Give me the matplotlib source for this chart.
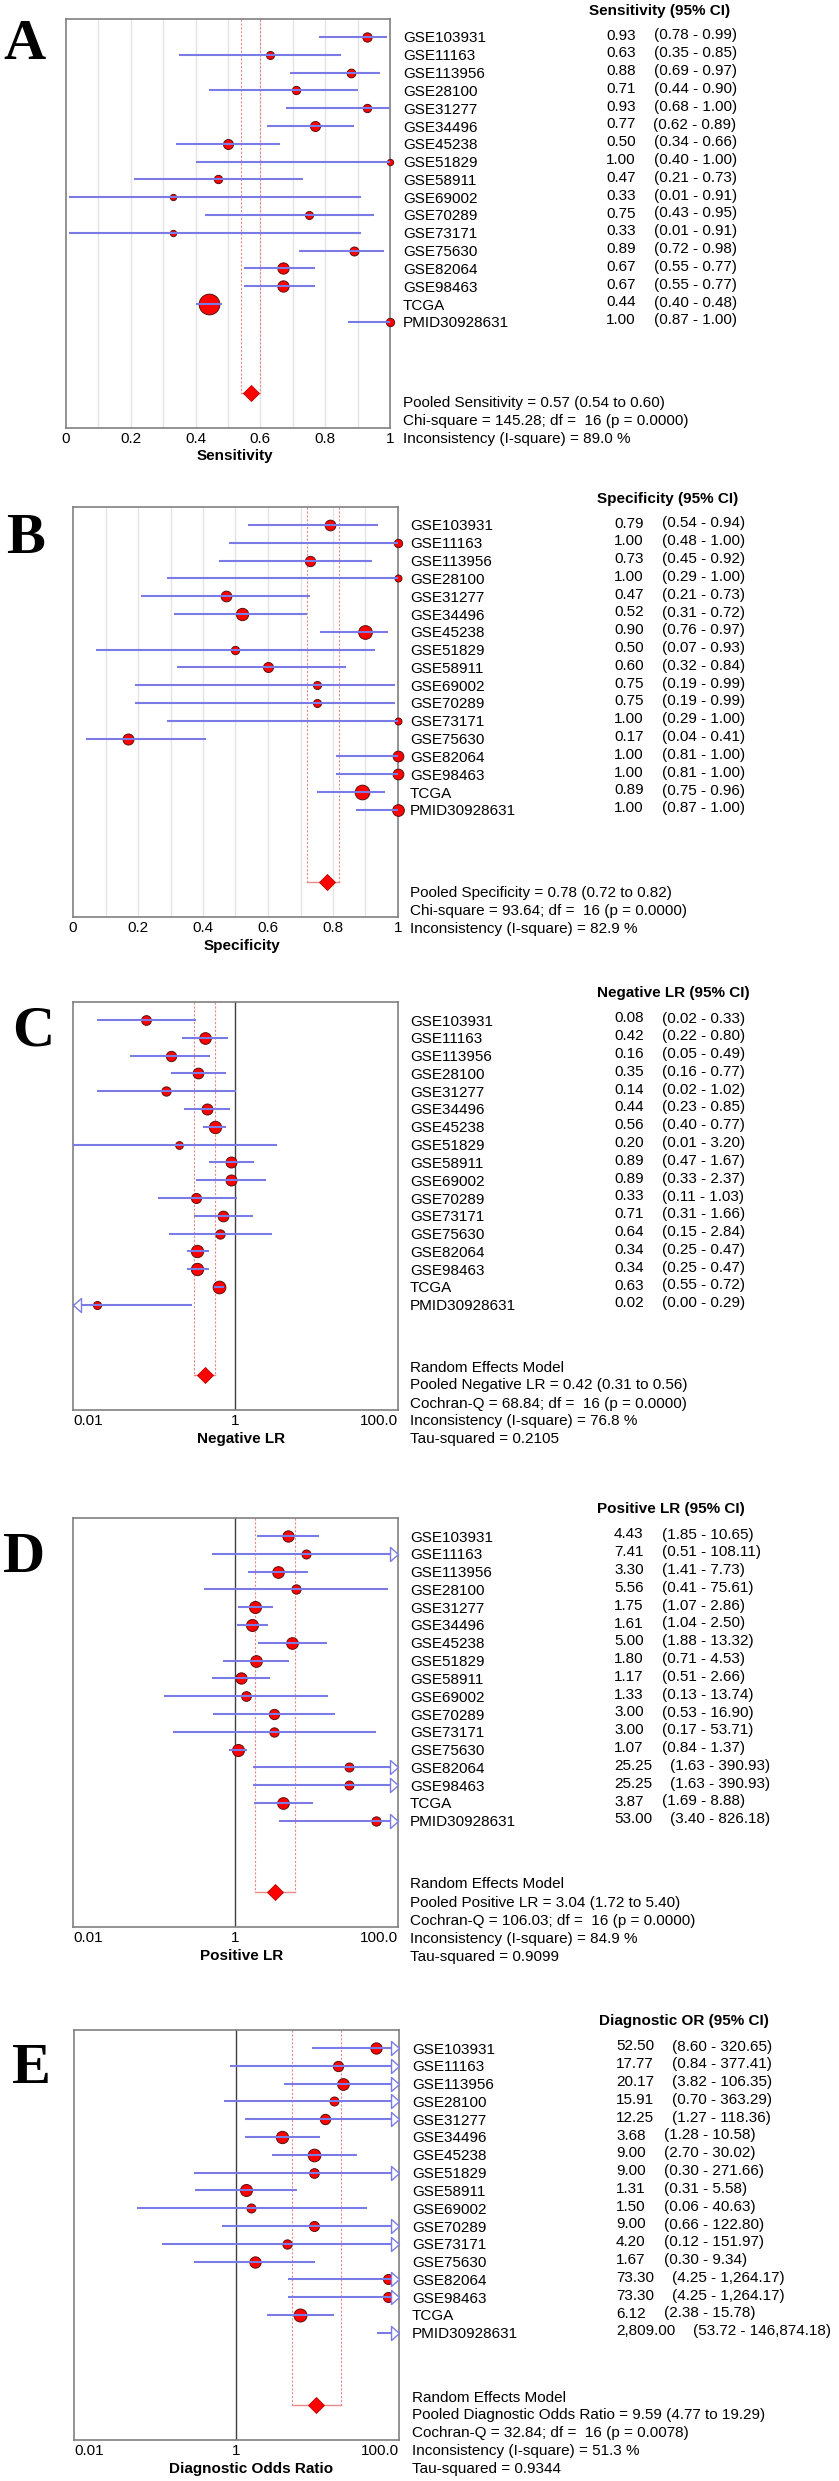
import numpy as np
import matplotlib.pyplot as plt
from matplotlib.path import Path
from matplotlib.ticker import NullLocator

W, H = 839, 2481

studies = ["GSE103931", "GSE11163", "GSE113956", "GSE28100", "GSE31277", "GSE34496",
           "GSE45238", "GSE51829", "GSE58911", "GSE69002", "GSE70289", "GSE73171",
           "GSE75630", "GSE82064", "GSE98463", "TCGA", "PMID30928631"]

# Sensitivity
sens_est = [0.93, 0.63, 0.88, 0.71, 0.93, 0.77, 0.50, 1.00, 0.47, 0.33, 0.75, 0.33, 0.89, 0.67, 0.67, 0.44, 1.00]
sens_lo = [0.78, 0.35, 0.69, 0.44, 0.68, 0.62, 0.34, 0.40, 0.21, 0.01, 0.43, 0.01, 0.72, 0.55, 0.55, 0.40, 0.87]
sens_hi = [0.99, 0.85, 0.97, 0.90, 1.00, 0.89, 0.66, 1.00, 0.73, 0.91, 0.95, 0.91, 0.98, 0.77, 0.77, 0.48, 1.00]
sens_wt = [9.3, 8, 8.7, 8.3, 8.3, 10, 10, 6.3, 8.3, 6.3, 8, 6.3, 9, 11.3, 11.3, 20.7, 8.3]

# Specificity
spec_est = [0.79, 1.00, 0.73, 1.00, 0.47, 0.52, 0.90, 0.50, 0.60, 0.75, 0.75, 1.00, 0.17, 1.00, 1.00, 0.89, 1.00]
spec_lo = [0.54, 0.48, 0.45, 0.29, 0.21, 0.31, 0.76, 0.07, 0.32, 0.19, 0.19, 0.29, 0.04, 0.81, 0.81, 0.75, 0.87]
spec_hi = [0.94, 1.00, 0.92, 1.00, 0.73, 0.72, 0.97, 0.93, 0.84, 0.99, 0.99, 1.00, 0.41, 1.00, 1.00, 0.96, 1.00]
spec_wt = [10.7, 8.3, 10.3, 7, 10.7, 12.3, 13.7, 8.3, 10, 8, 8, 7, 11, 10.7, 10.7, 14.7, 11.7]

# Negative LR
nlr_est = [0.08, 0.42, 0.16, 0.35, 0.14, 0.44, 0.56, 0.20, 0.89, 0.89, 0.33, 0.71, 0.64, 0.34, 0.34, 0.63, 0.02]
nlr_lo = [0.02, 0.22, 0.05, 0.16, 0.02, 0.23, 0.40, 0.01, 0.47, 0.33, 0.11, 0.31, 0.15, 0.25, 0.25, 0.55, 0.00]
nlr_hi = [0.33, 0.80, 0.49, 0.77, 1.02, 0.85, 0.77, 3.20, 1.67, 2.37, 1.03, 1.66, 2.84, 0.47, 0.47, 0.72, 0.29]
nlr_wt = [9.7, 11.7, 10.3, 10.7, 9.3, 11, 12.3, 7.7, 11, 11, 10, 10.7, 9.3, 12.3, 12.3, 12.7, 8]

# Positive LR
plr_est = [4.43, 7.41, 3.30, 5.56, 1.75, 1.61, 5.00, 1.80, 1.17, 1.33, 3.00, 3.00, 1.07, 25.25, 25.25, 3.87, 53.00]
plr_lo = [1.85, 0.51, 1.41, 0.41, 1.07, 1.04, 1.88, 0.71, 0.51, 0.13, 0.53, 0.17, 0.84, 1.63, 1.63, 1.69, 3.40]
plr_hi = [10.65, 108.11, 7.73, 75.61, 2.86, 2.50, 13.32, 4.53, 2.66, 13.74, 16.90, 53.71, 1.37, 390.93, 390.93, 8.88, 826.18]
plr_wt = [11.3, 9, 11.7, 9.3, 12, 12, 11.7, 11.7, 11.3, 9.7, 10.3, 9.3, 12, 9, 9, 11.7, 9.3]

# Diagnostic OR
dor_est = [52.50, 17.77, 20.17, 15.91, 12.25, 3.68, 9.00, 9.00, 1.31, 1.50, 9.00, 4.20, 1.67, 73.30, 73.30, 6.12, 2809.00]
dor_lo = [8.60, 0.84, 3.82, 0.70, 1.27, 1.28, 2.70, 0.30, 0.31, 0.06, 0.66, 0.12, 0.30, 4.25, 4.25, 2.38, 53.72]
dor_hi = [320.65, 377.41, 106.35, 363.29, 118.36, 10.58, 30.02, 271.66, 5.58, 40.63, 122.80, 151.97, 9.34, 1264.17, 1264.17, 15.78, 146874.18]
dor_wt = [11.3, 10.3, 11.7, 9, 10.3, 12.3, 12.7, 9.7, 12, 9, 10, 9.3, 11.3, 10, 10, 13, 10]

# pooled estimate, lower, upper
pooled_sens = [0.57, 0.54, 0.60]
pooled_spec = [0.78, 0.72, 0.82]
pooled_nlr = [0.42, 0.31, 0.56]
pooled_plr = [3.04, 1.72, 5.40]
pooled_dor = [9.59, 4.77, 19.29]

# heterogeneity: statistic, df, p, I-square, tau-squared
het_sens = [145.28, 16, 0.0000, 89.0, None]
het_spec = [93.64, 16, 0.0000, 82.9, None]
het_nlr = [68.84, 16, 0.0000, 76.8, 0.2105]
het_plr = [106.03, 16, 0.0000, 84.9, 0.9099]
het_dor = [32.84, 16, 0.0078, 51.3, 0.9344]

plt.rcParams['font.family'] = ['Liberation Sans', 'DejaVu Sans']

fig = plt.figure(figsize=(W / 100, H / 100), dpi=100)

CI_COLOR = '#7b7be8'
RED = '#ff0000'
FS = 11


def fx(x):
    return x / W


def fy(y):
    return 1 - y / H


def fmt(v):
    return f"{v:,.2f}"


ARROW_R = Path([(0, 0), (-8, 7), (-8, -7), (0, 0)],
               [Path.MOVETO, Path.LINETO, Path.LINETO, Path.CLOSEPOLY])
ARROW_L = Path([(0, 0), (8, 7), (8, -7), (0, 0)],
               [Path.MOVETO, Path.LINETO, Path.LINETO, Path.CLOSEPOLY])


def forest(g, est, lo, hi, wt, pooled, het, header, xlabel, pooled_name, log):
    left, right, top, bottom = g['box']
    h = bottom - top
    ax = fig.add_axes([fx(left), fy(bottom), (right - left) / W, h / H])
    if log:
        ax.set_xscale('log')
        xmin, xmax = 0.01, 100
        ax.axvline(1, color='#404040', lw=1, zorder=1)
        ax.set_xticks([0.01, 1, 100], ['0.01', '1', '100.0'])
    else:
        xmin, xmax = 0, 1
        for gx in np.arange(0.1, 0.95, 0.1):
            ax.axvline(gx, color='#e4e4e4', lw=1, zorder=0)
        ax.set_xticks([0, 0.2, 0.4, 0.6, 0.8, 1.0], ['0', '0.2', '0.4', '0.6', '0.8', '1'])
    ax.set_xlim(xmin, xmax)
    ax.set_ylim(h, 0)
    ax.xaxis.set_minor_locator(NullLocator())
    ax.set_yticks([])
    ax.tick_params(axis='x', length=0, pad=3, labelsize=FS)
    labels = ax.get_xticklabels()
    if log:
        labels[0].set_ha('left')
        labels[-1].set_ha('right')
    for s in ax.spines.values():
        s.set_color('#808080')
        s.set_linewidth(1.2)

    rows = 18 + np.arange(len(studies)) * 17.8
    for i in range(len(studies)):
        y = rows[i]
        a = max(lo[i], xmin)
        b = min(hi[i], xmax)
        if xmin <= est[i] <= xmax:
            ax.plot(est[i], y, 'o', ms=wt[i] * 0.72, mfc=RED, mec='#5a1010',
                    mew=0.7, zorder=3, clip_on=False)
        ax.plot([a, b], [y, y], color=CI_COLOR, lw=1.5, zorder=4,
                solid_capstyle='butt', clip_on=False)
        if log and hi[i] > xmax:
            ax.plot(xmax, y, marker=ARROW_R, ms=11.5, mfc='white', mec=CI_COLOR,
                    mew=1, zorder=5, clip_on=False)
        if log and lo[i] < xmin:
            ax.plot(xmin, y, marker=ARROW_L, ms=11.5, mfc='white', mec=CI_COLOR,
                    mew=1, zorder=5, clip_on=False)

    # pooled estimate
    yd = h - 35
    p_est, p_lo, p_hi = pooled
    ax.plot([p_lo, p_lo], [0, yd], color='#e88a8a', lw=0.8, ls=(0, (2, 1.5)), zorder=2)
    ax.plot([p_hi, p_hi], [0, yd], color='#e88a8a', lw=0.8, ls=(0, (2, 1.5)), zorder=2)
    ax.plot([p_lo, p_hi], [yd, yd], color='#e88a8a', lw=1, zorder=2)
    ax.plot(p_est, yd, 'D', ms=7.8, mfc=RED, mec='#c00000', mew=0.6, zorder=3)

    # right-hand columns
    for i, name in enumerate(studies):
        yb = fy(top + rows[i] + 5.5)
        fig.text(fx(g['names']), yb, name, fontsize=FS, va='baseline')
        t = fig.text(fx(g['vals']), yb, fmt(est[i]), fontsize=FS, va='bottom')
        ax.annotate(f"({fmt(lo[i])} - {fmt(hi[i])})", xy=(1, 0), xycoords=t,
                    xytext=(18, 0), textcoords='offset pixels', fontsize=FS,
                    va='bottom', ha='left')

    fig.text(fx(g['head']), fy(top - 10 + 5.5), header, fontsize=FS,
             fontweight='bold', va='baseline')
    fig.text(fx(g['xlab']), fy(bottom + 27 + 5.5), xlabel, fontsize=FS,
             fontweight='bold', va='baseline', ha='center')

    stat, df, pval, isq, tau = het
    lines = []
    if log:
        lines.append("Random Effects Model")
        qname = "Cochran-Q"
    else:
        qname = "Chi-square"
    lines.append(f"Pooled {pooled_name} = {p_est:.2f} ({p_lo:.2f} to {p_hi:.2f})")
    lines.append(f"{qname} = {stat:.2f}; df =  {df} (p = {pval:.4f})")
    k0 = len(lines)
    lines.append(f"Inconsistency (I-square) = {isq:.1f} %")
    if tau is not None:
        lines.append(f"Tau-squared = {tau:.4f}")
    for k, line in enumerate(lines):
        fig.text(fx(g['names']), fy(bottom + 10 + 18 * (k - k0) + 5.5), line,
                 fontsize=FS, va='baseline')

    fig.text(fx(g['letter'][0]), fy(g['letter'][1]), g['letter'][2], fontsize=42,
             family=['Liberation Serif', 'DejaVu Serif'], fontweight='bold',
             va='baseline', ha='left')
    return ax


geo_a = dict(box=(66, 390, 19, 428), names=403, vals=606, head=589, xlab=235, letter=(3, 59, 'A'))
geo_b = dict(box=(73, 398, 507, 917), names=410, vals=614, head=597, xlab=242, letter=(6, 553, 'B'))
geo_c = dict(box=(73, 398, 1002, 1410), names=410, vals=614, head=597, xlab=241, letter=(12, 1045, 'C'))
geo_d = dict(box=(73, 398, 1518, 1927), names=410, vals=614, head=597, xlab=242, letter=(3, 1572, 'D'))
geo_e = dict(box=(74, 399, 2030, 2440), names=412, vals=616, head=599, xlab=251, letter=(12, 2083, 'E'))

forest(geo_a, sens_est, sens_lo, sens_hi, sens_wt, pooled_sens, het_sens,
       "Sensitivity (95% CI)", "Sensitivity", "Sensitivity", False)
forest(geo_b, spec_est, spec_lo, spec_hi, spec_wt, pooled_spec, het_spec,
       "Specificity (95% CI)", "Specificity", "Specificity", False)
forest(geo_c, nlr_est, nlr_lo, nlr_hi, nlr_wt, pooled_nlr, het_nlr,
       "Negative LR (95% CI)", "Negative LR", "Negative LR", True)
forest(geo_d, plr_est, plr_lo, plr_hi, plr_wt, pooled_plr, het_plr,
       "Positive LR (95% CI)", "Positive LR", "Positive LR", True)
forest(geo_e, dor_est, dor_lo, dor_hi, dor_wt, pooled_dor, het_dor,
       "Diagnostic OR (95% CI)", "Diagnostic Odds Ratio", "Diagnostic Odds Ratio", True)

fig.savefig("out.png", dpi=100)
